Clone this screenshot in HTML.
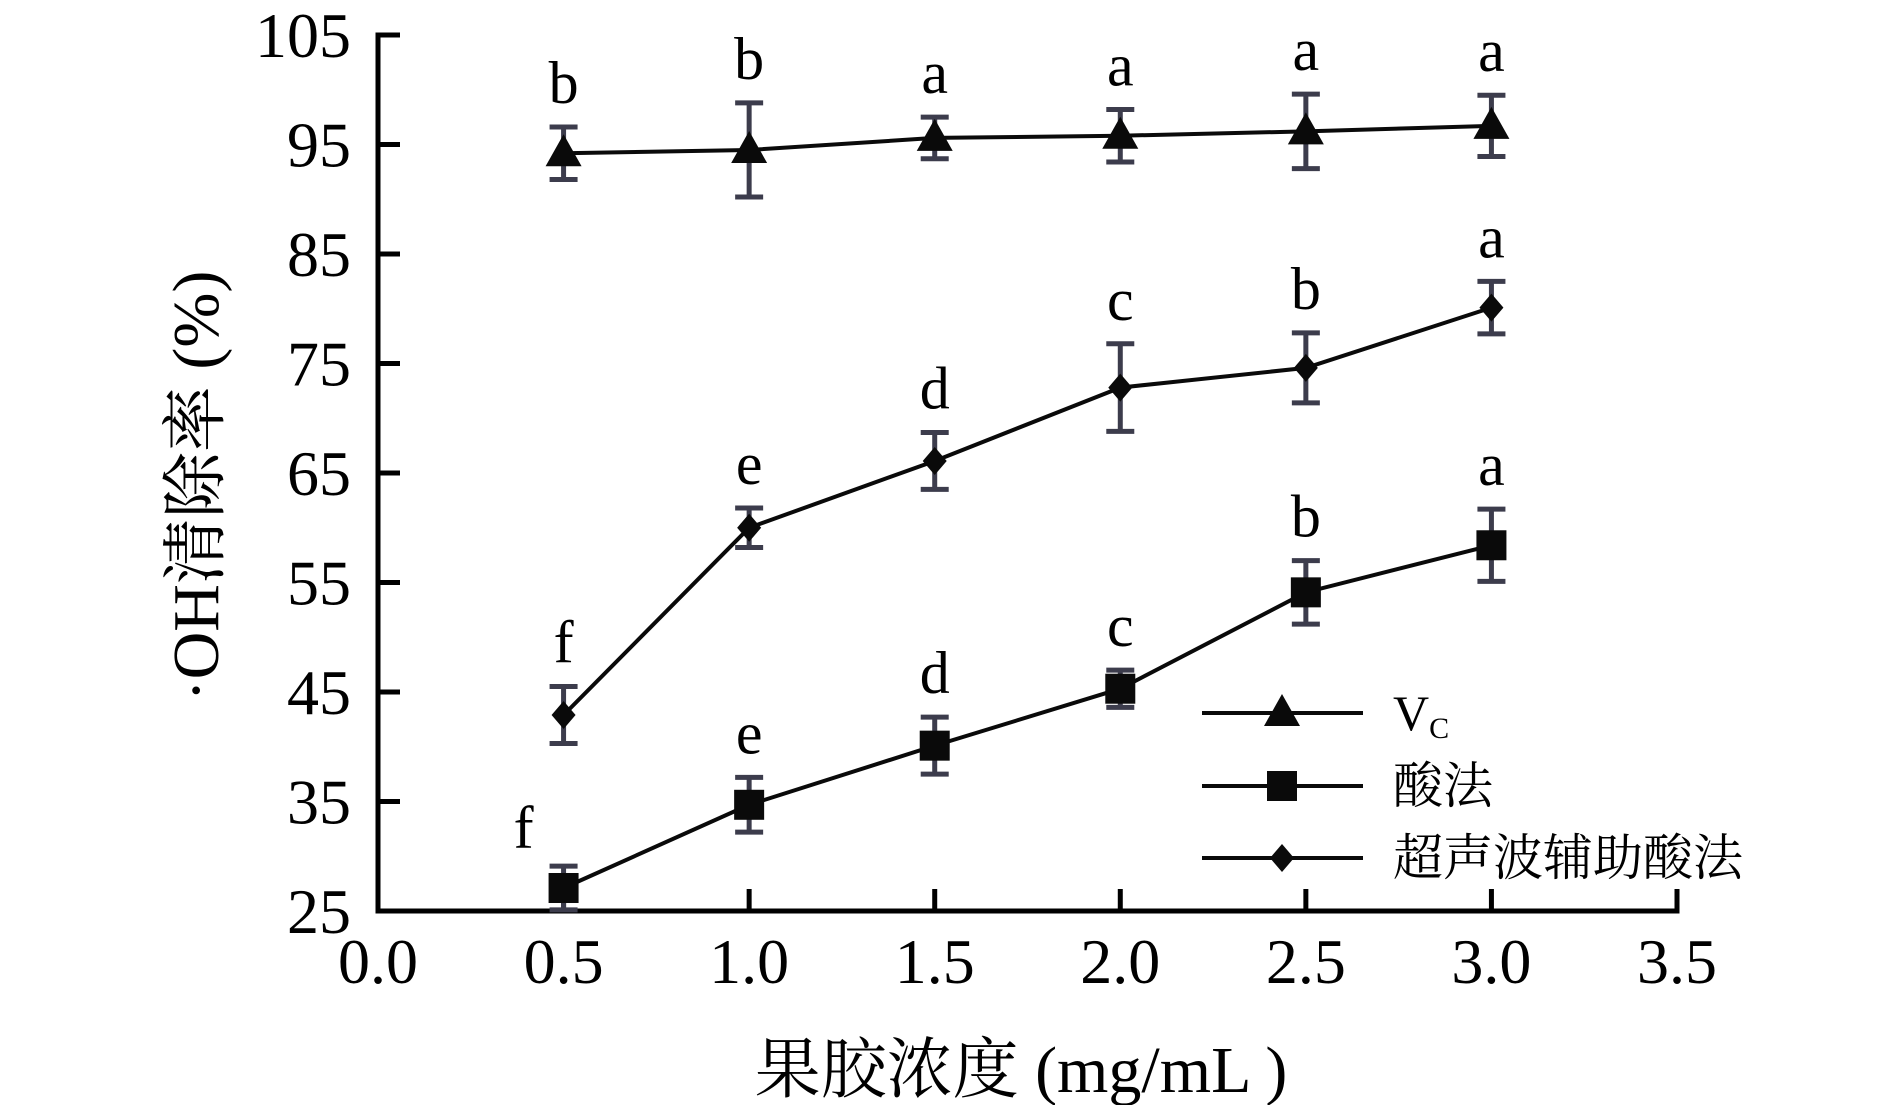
<!DOCTYPE html>
<html><head><meta charset="utf-8"><style>
html,body{margin:0;padding:0;background:#fff;}
svg{display:block;font-family:"Liberation Serif","Noto Serif CJK SC",serif;}
</style></head><body>
<svg id="chart" width="1890" height="1105" viewBox="0 0 1890 1105" xmlns="http://www.w3.org/2000/svg"></svg>
<script>
const xValues = [0.5, 1.0, 1.5, 2.0, 2.5, 3.0];
const vcValues = [94.2, 94.5, 95.6, 95.8, 96.2, 96.7];
const vcErrors = [2.4, 4.3, 1.9, 2.4, 3.4, 2.8];
const vcLetters = ["b","b","a","a","a","a"];
const acidValues = [27.1, 34.7, 40.1, 45.3, 54.1, 58.4];
const acidErrors = [2.0, 2.5, 2.6, 1.7, 2.9, 3.3];
const acidLetters = ["f","e","d","c","b","a"];
const usValues = [42.9, 60.0, 66.1, 72.8, 74.6, 80.1];
const usErrors = [2.6, 1.8, 2.6, 4.0, 3.2, 2.4];
const usLetters = ["f","e","d","c","b","a"];
const xTicks = [0.0, 0.5, 1.0, 1.5, 2.0, 2.5, 3.0, 3.5];
const xTickLabels = ["0.0","0.5","1.0","1.5","2.0","2.5","3.0","3.5"];
const yTicks = [25, 35, 45, 55, 65, 75, 85, 95, 105];
const yTickLabels = ["25","35","45","55","65","75","85","95","105"];

const NS = "http://www.w3.org/2000/svg";
const svg = document.getElementById("chart");
const L = 378, R = 1677, T = 35, B = 911;
const xs = v => L + (v - 0) / 3.5 * (R - L);
const ys = v => B - (v - 25) / 80 * (B - T);
function mk(tag, attrs, parent) {
  const e = document.createElementNS(NS, tag);
  for (const k in attrs) e.setAttribute(k, attrs[k]);
  (parent || svg).appendChild(e);
  return e;
}
const axes = mk("g", {});


mk("path", {d:`M${L+22},${T} H${L} V${B} H${R} V${B-22}`, fill:"none", stroke:"#000", "stroke-width":5}, axes);
yTicks.forEach((t, i) => {
  const y = ys(t);
  const tk = mk("line", {x1:L, x2:L+22, y1:y, y2:y, stroke:"#000", "stroke-width":5}, axes);
  
  
  const tx = mk("text", {x:351, y:y+22, "font-size":64, "text-anchor":"end"}, axes);
  tx.textContent = yTickLabels[i];
  
  
});
xTicks.forEach((t, i) => {
  const x = xs(t);
  const tk = mk("line", {x1:x, x2:x, y1:B, y2:B-22, stroke:"#000", "stroke-width":5}, axes);
  
  
  const tx = mk("text", {x:x, y:983, "font-size":64, "text-anchor":"middle"}, axes);
  tx.textContent = xTickLabels[i];
  
  
});
const yt = mk("text", {x:0, y:0, "font-size":66, "text-anchor":"middle", transform:"translate(218,486) rotate(-90)"});
yt.textContent = "·OH清除率 (%)";


const xt = mk("text", {x:1021, y:1092, "font-size":66, "text-anchor":"middle"});
xt.textContent = "果胶浓度 (mg/mL )";



function marker(type, x, y, parent) {
  if (type === "tri") return mk("polygon", {points:`${x},${y-19} ${x-18},${y+13} ${x+18},${y+13}`, fill:"#0a0a0a"}, parent);
  if (type === "sq") return mk("rect", {x:x-15, y:y-15, width:30, height:30, fill:"#0a0a0a"}, parent);
  return mk("polygon", {points:`${x},${y-14} ${x+12},${y} ${x},${y+14} ${x-12},${y}`, fill:"#0a0a0a"}, parent);
}
function series(name, vals, errs, letters, type, lx) {
  const g = mk("g", {});
  
  
  const pts = vals.map((v, i) => `${xs(xValues[i])},${ys(v)}`).join(" ");
  const ln = mk("polyline", {points:pts, fill:"none", stroke:"#0a0a0a", "stroke-width":4}, g);
  
  
  vals.forEach((v, i) => {
    const x = xs(xValues[i]), yt2 = ys(v + errs[i]), yb = ys(v - errs[i]);
    const eb = mk("path", {d:`M${x},${yt2} V${yb} M${x-14},${yt2} H${x+14} M${x-14},${yb} H${x+14}`, stroke:"#3c3c4c", "stroke-width":5, fill:"none"}, g);
    
    
    const m = marker(type, x, ys(v), g);
    
    
    let tx0 = x, ty0 = yt2 - 24;
    if (lx && i === 0) { tx0 = x - 40; ty0 = yt2 - 18; }
    const t = mk("text", {x:tx0, y:ty0, "font-size":60, "text-anchor":"middle"}, g);
    t.textContent = letters[i];
    
    
  });
}
series("vc", vcValues, vcErrors, vcLetters, "tri", false);
series("ultrasound-acid", usValues, usErrors, usLetters, "dia", false);
series("acid", acidValues, acidErrors, acidLetters, "sq", true);

const lg = mk("g", {});


[["tri", 713, "V", "vc"], ["sq", 786, "酸法", "acid"], ["dia", 858, "超声波辅助酸法", "ultrasound-acid"]].forEach(e => {
  const eg = mk("g", {}, lg);
  
  
  mk("line", {x1:1202, x2:1363, y1:e[1], y2:e[1], stroke:"#0a0a0a", "stroke-width":4}, eg);
  marker(e[0], 1282, e[1], eg);
  const t = mk("text", {x:1393, y:e[1]+17, "font-size":50}, eg);
  t.textContent = e[2];
  if (e[0] === "tri") {
    const s = mk("tspan", {"font-size":30, dy:8}, t);
    s.textContent = "C";
  }
});
</script>
</body></html>
